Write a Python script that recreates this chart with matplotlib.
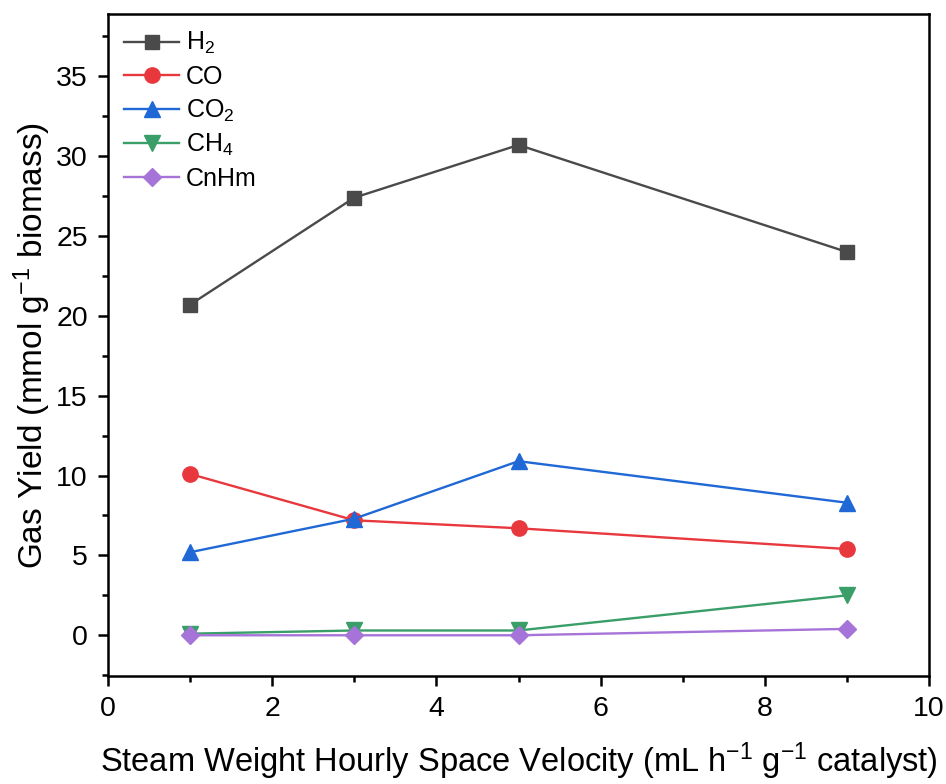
import matplotlib
matplotlib.use("Agg")
import matplotlib.pyplot as plt
from matplotlib.ticker import MultipleLocator

plt.rcParams['font.family'] = ['Liberation Sans', 'DejaVu Sans']
plt.rcParams['mathtext.fontset'] = 'custom'
plt.rcParams['mathtext.rm'] = 'Liberation Sans'
plt.rcParams['mathtext.it'] = 'Liberation Sans:italic'
plt.rcParams['mathtext.bf'] = 'Liberation Sans:bold'

x = [1, 3, 5, 9]
h2 = [20.7, 27.4, 30.7, 24.0]
co = [10.1, 7.2, 6.7, 5.4]
co2 = [5.2, 7.3, 10.9, 8.3]
ch4 = [0.1, 0.3, 0.3, 2.5]
cnhm = [0.0, 0.0, 0.0, 0.4]

labels = ['H$_2$', 'CO', 'CO$_2$', 'CH$_4$', 'CnHm']
series = [h2, co, co2, ch4, cnhm]
colors = ['#4a4a4a', '#e8383d', '#1f68d6', '#3a9e68', '#a673d8']
markers = ['s', 'o', '^', 'v', 'D']
msizes = [10, 11, 11, 11, 9]

fig = plt.figure(figsize=(9.46, 7.84), dpi=100)
ax = fig.add_axes([108/946, 1-676/784, (929-108)/946, (676-14)/784])

for ys, lab, c, m, ms in zip(series, labels, colors, markers, msizes):
    ax.plot(x, ys, color=c, marker=m, markersize=ms, linewidth=1.7, label=lab)

ax.set_xlim(0, 10)
ax.set_ylim(-2.55, 38.9)
ax.xaxis.set_major_locator(MultipleLocator(2))
ax.xaxis.set_minor_locator(MultipleLocator(1))
ax.yaxis.set_major_locator(MultipleLocator(5))
ax.yaxis.set_minor_locator(MultipleLocator(2.5))
ax.tick_params(which='major', direction='out', length=7.5, width=1.8, labelsize=20.5, pad=7)
ax.tick_params(which='minor', direction='out', length=4.5, width=1.8)
ax.tick_params(top=False, right=False, which='both')
for s in ax.spines.values():
    s.set_linewidth(1.8)

ax.set_ylabel('Gas Yield (mmol g$^{-1}$ biomass)', fontsize=24, labelpad=2)
ax.set_xlabel('Steam Weight Hourly Space Velocity (mL h$^{-1}$ g$^{-1}$ catalyst)', fontsize=23.5, labelpad=13)

ax.legend(loc='upper left', frameon=False, fontsize=18, handlelength=2.2,
          labelspacing=0.34, handletextpad=0.25, borderaxespad=0.25,
          bbox_to_anchor=(0.0, 1.0))

fig.savefig('out.png', dpi=100)
